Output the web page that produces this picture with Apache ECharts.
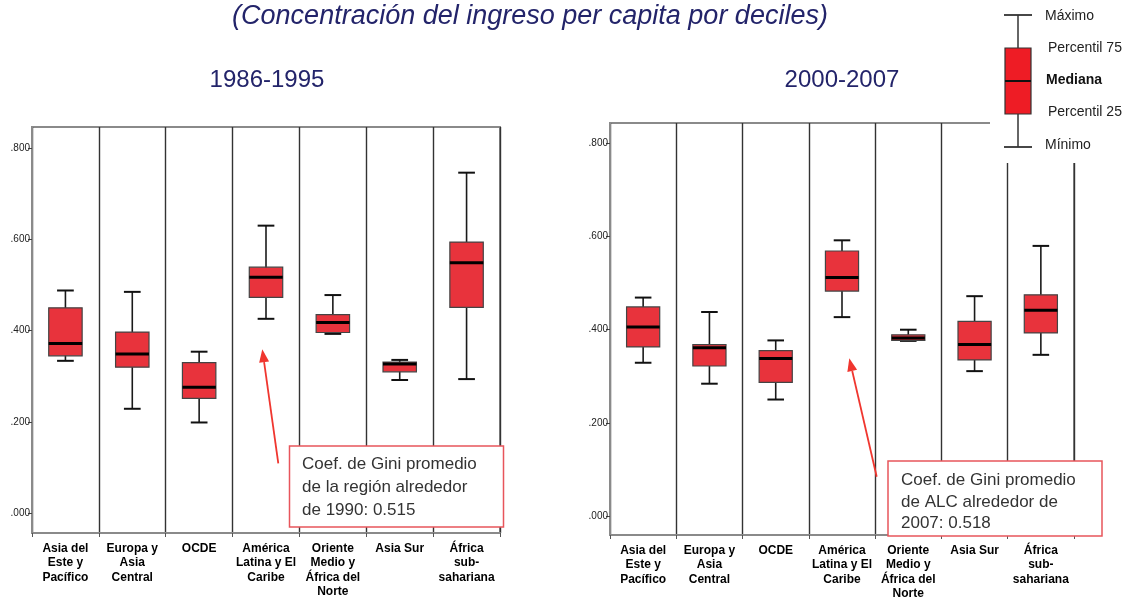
<!DOCTYPE html>
<html>
<head>
<meta charset="utf-8">
<script src="https://cdn.jsdelivr.net/npm/echarts@6/dist/echarts.min.js"></script>
<style>
  html, body { margin: 0; padding: 0; background: #fff; }
  #main { width: 1127px; height: 605px; }
</style>
</head>
<body>
<div id="main"></div>
<script>
// regiones (eje x)
var regions = ['Asia del\nEste y\nPacífico', 'Europa y\nAsia\nCentral', 'OCDE', 'América\nLatina y El\nCaribe', 'Oriente\nMedio y\nÁfrica del\nNorte', 'Asia Sur', 'África\nsub-\nsahariana'];

// 1986-1995: minimo, p25, mediana, p75, maximo
var min86 = [0.334, 0.229, 0.199, 0.426, 0.393, 0.292, 0.294];
var p25_86 = [0.345, 0.320, 0.252, 0.473, 0.396, 0.310, 0.451];
var med86 = [0.372, 0.349, 0.276, 0.517, 0.418, 0.327, 0.549];
var p75_86 = [0.450, 0.397, 0.330, 0.539, 0.435, 0.331, 0.594];
var max86 = [0.488, 0.485, 0.354, 0.630, 0.478, 0.336, 0.746];

// 2000-2007
var min07 = [0.329, 0.284, 0.250, 0.427, 0.376, 0.311, 0.346];
var p25_07 = [0.363, 0.322, 0.287, 0.483, 0.377, 0.335, 0.393];
var med07 = [0.406, 0.361, 0.338, 0.512, 0.382, 0.368, 0.442];
var p75_07 = [0.449, 0.368, 0.355, 0.569, 0.389, 0.418, 0.475];
var max07 = [0.469, 0.438, 0.377, 0.592, 0.400, 0.472, 0.580];

// ticks del eje y
var yTicks = [0, 0.2, 0.4, 0.6, 0.8];
var yTickLabels = ['.000', '.200', '.400', '.600', '.800'];

var sans = "'Liberation Sans', Arial, sans-serif";
var boxRed = '#e8333c';

function rows(lo, a, m, b, hi) {
  return regions.map(function (r, i) { return [i, lo[i], a[i], m[i], b[i], hi[i]]; });
}

function renderBox(params, api) {
  var i = api.value(0);
  var lo = api.coord([i, api.value(1)]);
  var q1 = api.coord([i, api.value(2)]);
  var md = api.coord([i, api.value(3)]);
  var q3 = api.coord([i, api.value(4)]);
  var hi = api.coord([i, api.value(5)]);
  var band = api.size([1, 0])[0];
  var bw = band * 0.5, cw = band * 0.25;
  var x = lo[0];
  var ln = { stroke: '#1a1a1a', lineWidth: 1.6 };
  return {
    type: 'group',
    children: [
      { type: 'line', shape: { x1: x, y1: hi[1], x2: x, y2: lo[1] }, style: ln },
      { type: 'line', shape: { x1: x - cw / 2, y1: hi[1], x2: x + cw / 2, y2: hi[1] }, style: { stroke: '#111', lineWidth: 2 } },
      { type: 'line', shape: { x1: x - cw / 2, y1: lo[1], x2: x + cw / 2, y2: lo[1] }, style: { stroke: '#111', lineWidth: 2 } },
      { type: 'rect', shape: { x: x - bw / 2, y: q3[1], width: bw, height: q1[1] - q3[1] }, style: { fill: boxRed, stroke: '#444', lineWidth: 1.2 } },
      { type: 'line', shape: { x1: x - bw / 2, y1: md[1], x2: x + bw / 2, y2: md[1] }, style: { stroke: '#000', lineWidth: 3 } }
    ]
  };
}

function xAxisOf(idx) {
  return {
    type: 'category', gridIndex: idx, data: regions, boundaryGap: true,
    axisLine: { onZero: false, lineStyle: { color: '#8a8a8a', width: 2 } },
    axisTick: { show: true, length: 4, lineStyle: { color: '#555' } },
    axisLabel: { interval: 0, margin: 8, color: '#000', fontWeight: 'bold', fontSize: 12, lineHeight: 14.5, fontFamily: sans },
    splitLine: { show: true, interval: 0, lineStyle: { color: '#333', width: 1.4 } }
  };
}

function yAxisOf(idx, lo, hi) {
  return {
    type: 'value', gridIndex: idx, min: lo, max: hi,
    axisLine: { show: true, lineStyle: { color: '#8a8a8a', width: 2 } },
    axisTick: { show: true, length: 4, customValues: yTicks, lineStyle: { color: '#444' } },
    axisLabel: {
      customValues: yTicks, margin: 2, color: '#222', fontSize: 10, fontFamily: sans,
      formatter: function (v) { return yTickLabels[yTicks.indexOf(Math.round(v * 10) / 10)]; }
    },
    splitLine: { show: false }
  };
}

function arrow(x1, y1, x2, y2) {
  var dx = x2 - x1, dy = y2 - y1, len = Math.sqrt(dx * dx + dy * dy);
  var ux = dx / len, uy = dy / len, hl = 13, hw = 5;
  var bx = x2 - ux * hl, by = y2 - uy * hl;
  return [
    { type: 'line', shape: { x1: x1, y1: y1, x2: bx, y2: by }, style: { stroke: '#f0362f', lineWidth: 1.8 }, z: 50 },
    { type: 'polygon', shape: { points: [[x2, y2], [bx - uy * hw, by + ux * hw], [bx + uy * hw, by - ux * hw]] }, style: { fill: '#f0362f' }, z: 50 }
  ];
}

var textNavy = '#23246a';
var graphics = [
  { type: 'text', style: { text: '(Concentración del ingreso per capita por deciles)', x: 530, y: 16, textAlign: 'center', textVerticalAlign: 'middle', font: 'italic 27px ' + sans, fill: textNavy } },
  { type: 'text', style: { text: '1986-1995', x: 267, y: 80, textAlign: 'center', textVerticalAlign: 'middle', font: '24px ' + sans, fill: textNavy } },
  { type: 'text', style: { text: '2000-2007', x: 842, y: 80, textAlign: 'center', textVerticalAlign: 'middle', font: '24px ' + sans, fill: textNavy } },
  // leyenda
  { type: 'rect', shape: { x: 990, y: 0, width: 137, height: 163 }, style: { fill: '#fff' }, z: 40 },
  { type: 'line', shape: { x1: 1018, y1: 15, x2: 1018, y2: 147 }, style: { stroke: '#333', lineWidth: 1.5 }, z: 41 },
  { type: 'line', shape: { x1: 1004, y1: 15, x2: 1032, y2: 15 }, style: { stroke: '#333', lineWidth: 1.8 }, z: 41 },
  { type: 'line', shape: { x1: 1004, y1: 147, x2: 1032, y2: 147 }, style: { stroke: '#333', lineWidth: 1.8 }, z: 41 },
  { type: 'rect', shape: { x: 1005, y: 48, width: 26, height: 66 }, style: { fill: '#ee1c25', stroke: '#333', lineWidth: 1.2 }, z: 42 },
  { type: 'line', shape: { x1: 1005, y1: 81, x2: 1031, y2: 81 }, style: { stroke: '#111', lineWidth: 2 }, z: 43 },
  { type: 'text', style: { text: 'Máximo', x: 1045, y: 16, textVerticalAlign: 'middle', font: '14px ' + sans, fill: '#222' }, z: 43 },
  { type: 'text', style: { text: 'Percentil 75', x: 1048, y: 48, textVerticalAlign: 'middle', font: '14px ' + sans, fill: '#222' }, z: 43 },
  { type: 'text', style: { text: 'Mediana', x: 1046, y: 80, textVerticalAlign: 'middle', font: 'bold 14px ' + sans, fill: '#111' }, z: 43 },
  { type: 'text', style: { text: 'Percentil 25', x: 1048, y: 112, textVerticalAlign: 'middle', font: '14px ' + sans, fill: '#222' }, z: 43 },
  { type: 'text', style: { text: 'Mínimo', x: 1045, y: 145, textVerticalAlign: 'middle', font: '14px ' + sans, fill: '#222' }, z: 43 },
  // notas
  { type: 'rect', shape: { x: 289.5, y: 446, width: 214, height: 81 }, style: { fill: '#fff', stroke: '#e8555b', lineWidth: 1.5 }, z: 45 },
  { type: 'text', style: { text: 'Coef. de Gini promedio\nde la región alrededor\nde 1990: 0.515', x: 302, y: 453, textVerticalAlign: 'top', font: '17px ' + sans, lineHeight: 23, fill: '#333' }, z: 46 },
  { type: 'rect', shape: { x: 888, y: 461, width: 214, height: 75 }, style: { fill: '#fff', stroke: '#e8555b', lineWidth: 1.5 }, z: 45 },
  { type: 'text', style: { text: 'Coef. de Gini promedio\nde ALC alrededor de\n2007: 0.518', x: 901, y: 470, textVerticalAlign: 'top', font: '17px ' + sans, lineHeight: 21.5, fill: '#333' }, z: 46 }
].concat(arrow(278.3, 463.3, 262.3, 349.3)).concat(arrow(876.7, 476.7, 849.3, 358.3));

var myChart = echarts.init(document.getElementById('main'));
myChart.setOption({
  animation: false,
  backgroundColor: '#fff',
  grid: [
    { left: 32, top: 127, width: 468, height: 406, show: true, borderColor: '#8a8a8a', borderWidth: 2 },
    { left: 610, top: 123, width: 464, height: 412, show: true, borderColor: '#8a8a8a', borderWidth: 2 }
  ],
  xAxis: [xAxisOf(0), xAxisOf(1)],
  yAxis: [yAxisOf(0, -0.043, 0.846), yAxisOf(1, -0.041, 0.844)],
  series: [
    { name: '1986-1995', type: 'custom', xAxisIndex: 0, yAxisIndex: 0, renderItem: renderBox, encode: { x: 0, y: [1, 2, 3, 4, 5] }, data: rows(min86, p25_86, med86, p75_86, max86), z: 10 },
    { name: '2000-2007', type: 'custom', xAxisIndex: 1, yAxisIndex: 1, renderItem: renderBox, encode: { x: 0, y: [1, 2, 3, 4, 5] }, data: rows(min07, p25_07, med07, p75_07, max07), z: 10 }
  ],
  graphic: graphics
});
</script>
</body>
</html>
